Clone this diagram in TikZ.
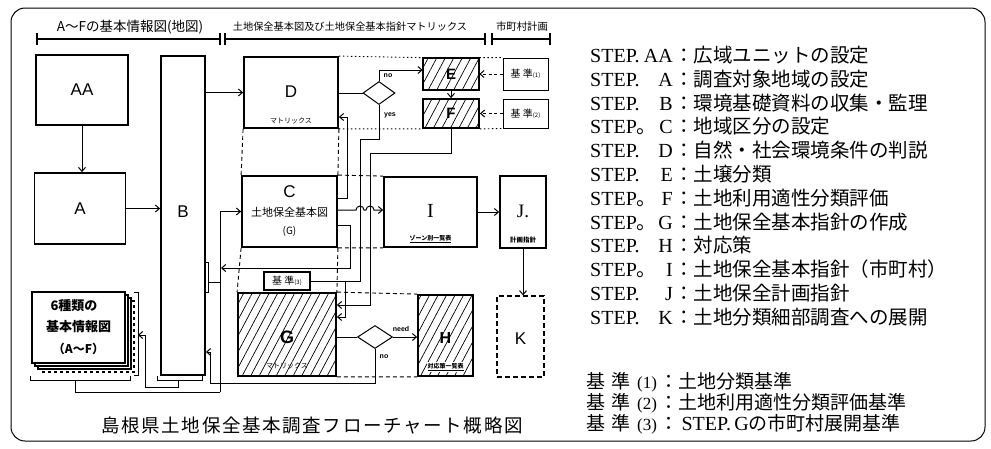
\documentclass[tikz,border=0pt]{standalone}
\usepackage{fontspec}
\setmainfont{Liberation Serif}
\setsansfont{Liberation Sans}
\newfontfamily\jp{Noto Sans CJK JP}
\newfontfamily\jpcap[LetterSpace=9]{Noto Sans CJK JP}
\usetikzlibrary{shapes.geometric,patterns.meta,arrows.meta,calc}
\newcommand\myfs[1]{\fontsize{#1}{#1}\selectfont}
\begin{document}
\begin{tikzpicture}[x=1pt,y=-1pt,
  box/.style={draw,line width=1.8pt,inner sep=0pt,fill=white,font=\sffamily\myfs{17}},
  hbox/.style={draw,line width=1.8pt,inner sep=0pt,pattern={Lines[angle=62,distance=7.5pt,line width=0.7pt]}},
  kbox/.style={draw,line width=1pt,inner sep=0pt,fill=white},
  conn/.style={line width=1pt},
  arr/.style={line width=1pt,-{Straight Barb[length=4pt,width=7pt]}},
  dsh/.style={line width=0.9pt,dash pattern=on 4pt off 3pt},
  dotl/.style={line width=0.9pt,dash pattern=on 1.5pt off 2.5pt},
  hw/.style={font=\jp\myfs{8},inner sep=0pt},
  lat/.style={font=\sffamily\bfseries\myfs{7},inner sep=0pt},
  big/.style={font=\sffamily\myfs{17},inner sep=0pt},
  brk/.style={line width=2.2pt},
  tick/.style={line width=1.2pt},
  dia/.style={diamond,draw,line width=1pt,inner sep=0pt,fill=white},
]
\useasboundingbox (0,0) rectangle (991,448);
% frame
\draw[line width=1pt,rounded corners=14pt] (11,8) rectangle (985,441);

% header
\node[font=\jp\myfs{13.5},inner sep=0pt] (h1) at (130,27) {A～Fの基本情報図(地図)};
\node[font=\jp\myfs{10.2},inner sep=0pt] (h2) at (350,27) {土地保全基本図及び土地保全基本指針マトリックス};
\node[font=\jp\myfs{10.4},inner sep=0pt] (h3) at (522,27) {市町村計画};
\draw[brk] (37,39) -- (220,39);
\draw[brk] (225,39) -- (485,39);
\draw[brk] (492,39) -- (550,39);
\foreach \x in {37,220,225,485,492,550} \draw[tick] (\x,33) -- (\x,45);

% boxes
\node[box,minimum width=92pt,minimum height=70pt] (AA) at (82,90) {AA};
\node[box,minimum width=91pt,minimum height=71pt] (A) at (80,208.5) {A};
\node[box,minimum width=44pt,minimum height=319pt] (B) at (183,215.5) {};
\node[big] (Bt) at (183,212) {B};
\node[box,minimum width=94pt,minimum height=71pt] (D) at (291,92.5) {};
\node[big] (Dt) at (291,92) {D};
\node[hw,font=\jp\myfs{7}] (Dm) at (291,121) {マトリックス};
\node[hbox,minimum width=56pt,minimum height=32pt] (E) at (451,74) {};
\node[big,font=\sffamily\bfseries\myfs{15}] (Et) at (451,74) {E};
\node[hbox,minimum width=56pt,minimum height=29pt] (F) at (451,113.5) {};
\node[big,font=\sffamily\bfseries\myfs{15}] (Ft) at (451,113) {F};
\node[kbox,minimum width=45pt,minimum height=32pt,font=\jp\myfs{10}] (K1) at (525.5,74) {基 準\myfs{6}(1)};
\node[kbox,minimum width=45pt,minimum height=29pt,font=\jp\myfs{10}] (K2) at (525.5,113.5) {基 準\myfs{6}(2)};
\node[box,minimum width=95pt,minimum height=71pt] (C) at (289.5,211.5) {};
\node[big] (Ct) at (289.5,192) {C};
\node[hw,font=\jp\myfs{11}] (Cm) at (289.5,212) {土地保全基本図};
\node[hw,font=\jp\myfs{10}] (Cg) at (289.5,231) {(G)};
\node[box,minimum width=93pt,minimum height=70pt] (I) at (430.5,212) {};
\node[big,font=\rmfamily\myfs{20}] (It) at (430.5,211) {I};
\node[hw,font=\jp\bfseries\myfs{6}] (Im) at (430.5,239) {\underline{ゾーン別一覧表}};
\node[box,minimum width=46pt,minimum height=72pt] (J) at (523,212) {};
\node[big,font=\rmfamily\myfs{19}] (Jt) at (523,211) {J.};
\node[hw,font=\jp\bfseries\myfs{6.5}] (Jm) at (523,240) {計画指針};
\node[box,line width=1.3pt,dash pattern=on 5pt off 3pt,minimum width=47pt,minimum height=81pt] (K) at (520.5,336.5) {};
\node[big] (Kt) at (520.5,339) {K};
\node[hbox,minimum width=98pt,minimum height=83pt] (G) at (287,334.5) {};
\node[big,font=\sffamily\bfseries\myfs{18}] (Gt) at (287,337) {G};
\node[hw,font=\jp\myfs{7}] (Gm) at (287,366) {マトリックス};
\node[hbox,minimum width=55pt,minimum height=81pt] (H) at (445.5,335.5) {};
\node[big,font=\sffamily\bfseries\myfs{16}] (Ht) at (445.5,338) {H};
\node[hw,font=\jp\bfseries\myfs{6},fill=white,inner sep=1pt] (Hm) at (445.5,367) {\underline{対応策一覧表}};
\node[kbox,line width=1.3pt,minimum width=46pt,minimum height=18pt,font=\jp\myfs{10}] (K3) at (287,281) {基 準\myfs{6}(3)};
\node[dia,minimum width=32pt,minimum height=23pt] (d1) at (379,93) {};
\node[dia,minimum width=35pt,minimum height=23pt] (d2) at (375,337) {};

% stacked maps
\draw[line width=1.2pt,dashed,fill=white] (41,301) rectangle (134,372);
\draw[line width=1.5pt,fill=white] (38,298) rectangle (131,369);
\draw[line width=1.5pt,fill=white] (35,295) rectangle (128,366);
\node[box,minimum width=93pt,minimum height=71pt] (S) at (78.5,327.5) {};
\node[hw,font=\jp\bfseries\myfs{13}] (S1) at (74,306) {6種類の};
\node[hw,font=\jp\bfseries\myfs{13}] (S2) at (78.5,327) {基本情報図};
\node[hw,font=\jp\bfseries\myfs{12}] (S3) at (78.5,349) {（A～F）};

% free points
\coordinate (bl1) at (220,392);
\coordinate (j1) at (221,268);
\coordinate (sb) at (138,335);

% connectors
\draw[arr] (AA.south) -- (AA.south |- A.north);
\draw[arr] (A.east) -- (B.west |- A.east);
\draw[arr] (B.east |- D.west) -- (D.west);
\draw[conn] (D.east |- d1.west) -- (d1.west);
\draw[arr] (d1.north) |- ([yshift=4pt]E.west);
\node[lat] (lno1) at (388,76) {no};
\node[lat] (lyes) at (390,115) {yes};
\draw[arr] (E.south) -- (E.south |- F.north);
\draw[arr,dash pattern=on 3pt off 2.5pt] (K1.west) -- (E.east);
\draw[arr,dash pattern=on 3pt off 2.5pt] (K2.west) -- (F.east);
\draw[dotl] (D.north east) -- (E.north west) (E.north east) -- (K1.north west);
\draw[dotl] (D.south east) -- (F.south west) (F.south east) -- (K2.south west);
\draw[dsh] (D.south west) -- (C.north west) (D.south east) -- (C.north east);
\draw[dsh] (C.north east) -- (I.north west) (C.south east) -- (I.south west);
\draw[dsh] (C.south west) -- (G.north west) (C.south east) -- (G.north east);
\draw[dsh] (G.north east) -- (H.north west) (G.south east) -- (H.south west);
% C -> D
\draw[arr] ([yshift=13.5pt]C.east) -- ++(10,0) |- ([yshift=-24.5pt]D.east);
% C -> I with hops
\draw[arr] ([yshift=1.5pt]C.east) -- (356,210) arc[start angle=180,end angle=0,radius=4pt] -- (366,210) arc[start angle=180,end angle=0,radius=4pt] -- ([yshift=2pt]I.west);
% yes branch
\draw[conn] (d1.south) |- (360,139) -- (360,281) -- (345,281);
% F branch
\draw[arr] (F.south) |- (370,153) -- (370,305) -- ([yshift=29.5pt]G.east);
% K3 to G
\draw[arr] (K3.east) -- (345,281) -- (345,317) -- ([yshift=17.5pt]G.east);
% C lower output back to left
\draw[arr] ([yshift=-13.5pt]C.east) -- (350,225) -- (350,268) -- (j1);
% B side feedback to C
\draw[arr] (bl1) -- (bl1 |- C.west) -- (C.west);
\draw[conn] (30,376) -- (30,380) -- (130,380) -- (130,376);
\draw[conn] (75,380) -- (75,392) -- (bl1);
\draw[conn] (205,262) -- (208,262) -- (208,292) -- (205,292);
\draw[conn] (208,282) -- (220,282);
% B bottom to maps
\draw[conn] (157,376) -- (157,380) -- (202,380) -- (202,376);
\draw[arr] (178,380) -- (178,387) -- (145,387) -- (145,335) -- (sb);
\draw[conn] (134,292) -- (138,292) -- (138,375) -- (134,375);
% G decision
\draw[conn] (G.east |- d2.west) -- (d2.west);
\draw[arr] (d2.east) -- (H.west |- d2.east);
\node[lat] (lneed) at (401,329) {need};
\node[lat] (lno2) at (384,357) {no};
\draw[arr] (d2.south) -- (375,383) -- (210,383) -- (210,352) -- ([yshift=-136.5pt]B.east);
% I -> J -> K
\draw[arr] (I.east) -- (J.west |- I.east);
\draw[arr] (J.south) -- (J.south |- K.north);

% caption
\node[font=\jpcap\myfs{18.5},inner sep=0pt] (cap) at (312,426) {島根県土地保全基本調査フローチャート概略図};

% legend
\foreach \y/\p/\l/\t [count=\i] in {
  55/./AA/広域ユニットの設定,
  79/./A/調査対象地域の設定,
  103/./B/環境基礎資料の収集・監理,
  126/{\jp 。}/C/地域区分の設定,
  150/./D/自然・社会環境条件の判説,
  174/./E/土壌分類,
  198/{\jp 。}/F/土地利用適性分類評価,
  222/{\jp 。}/G/土地保全基本指針の作成,
  245/./H/対応策,
  269/{\jp 。}/I/土地保全基本指針（市町村）,
  293/./J/土地保全計画指針,
  317/./K/土地分類細部調査への展開}{
  \node[anchor=base west,inner sep=0pt,font=\rmfamily\myfs{20}] (st\i) at (590,\y+7) {STEP\p};
  \node[anchor=base east,inner sep=0pt,font=\rmfamily\myfs{20}] (sl\i) at (673,\y+7) {\l};
  \node[anchor=base west,inner sep=0pt,font=\jp\myfs{19.5}] (sd\i) at (674,\y+7) {：\t};
}
\foreach \y/\n/\t [count=\i] in {381/1/土地分類基準, 402/2/土地利用適性分類評価基準}{
  \node[anchor=base west,inner sep=0pt,font=\jp\myfs{19}] (kj\i) at (586,\y+7) {基\hspace{6pt}準};
  \node[anchor=base west,inner sep=0pt,font=\rmfamily\myfs{17}] (kn\i) at (637,\y+7) {(\n)};
  \node[anchor=base west,inner sep=0pt,font=\jp\myfs{19}] (kt\i) at (659,\y+7) {：\t};
}
\node[anchor=base west,inner sep=0pt,font=\jp\myfs{19}] (kj3) at (586,430) {基\hspace{6pt}準};
\node[anchor=base west,inner sep=0pt,font=\rmfamily\myfs{17}] (kn3) at (637,430) {(3)};
\node[anchor=base west,inner sep=0pt,font=\jp\myfs{19}] (kt3) at (659,430) {：{\rmfamily\myfs{20}\,STEP.\,G}の市町村展開基準};
\end{tikzpicture}
\end{document}
